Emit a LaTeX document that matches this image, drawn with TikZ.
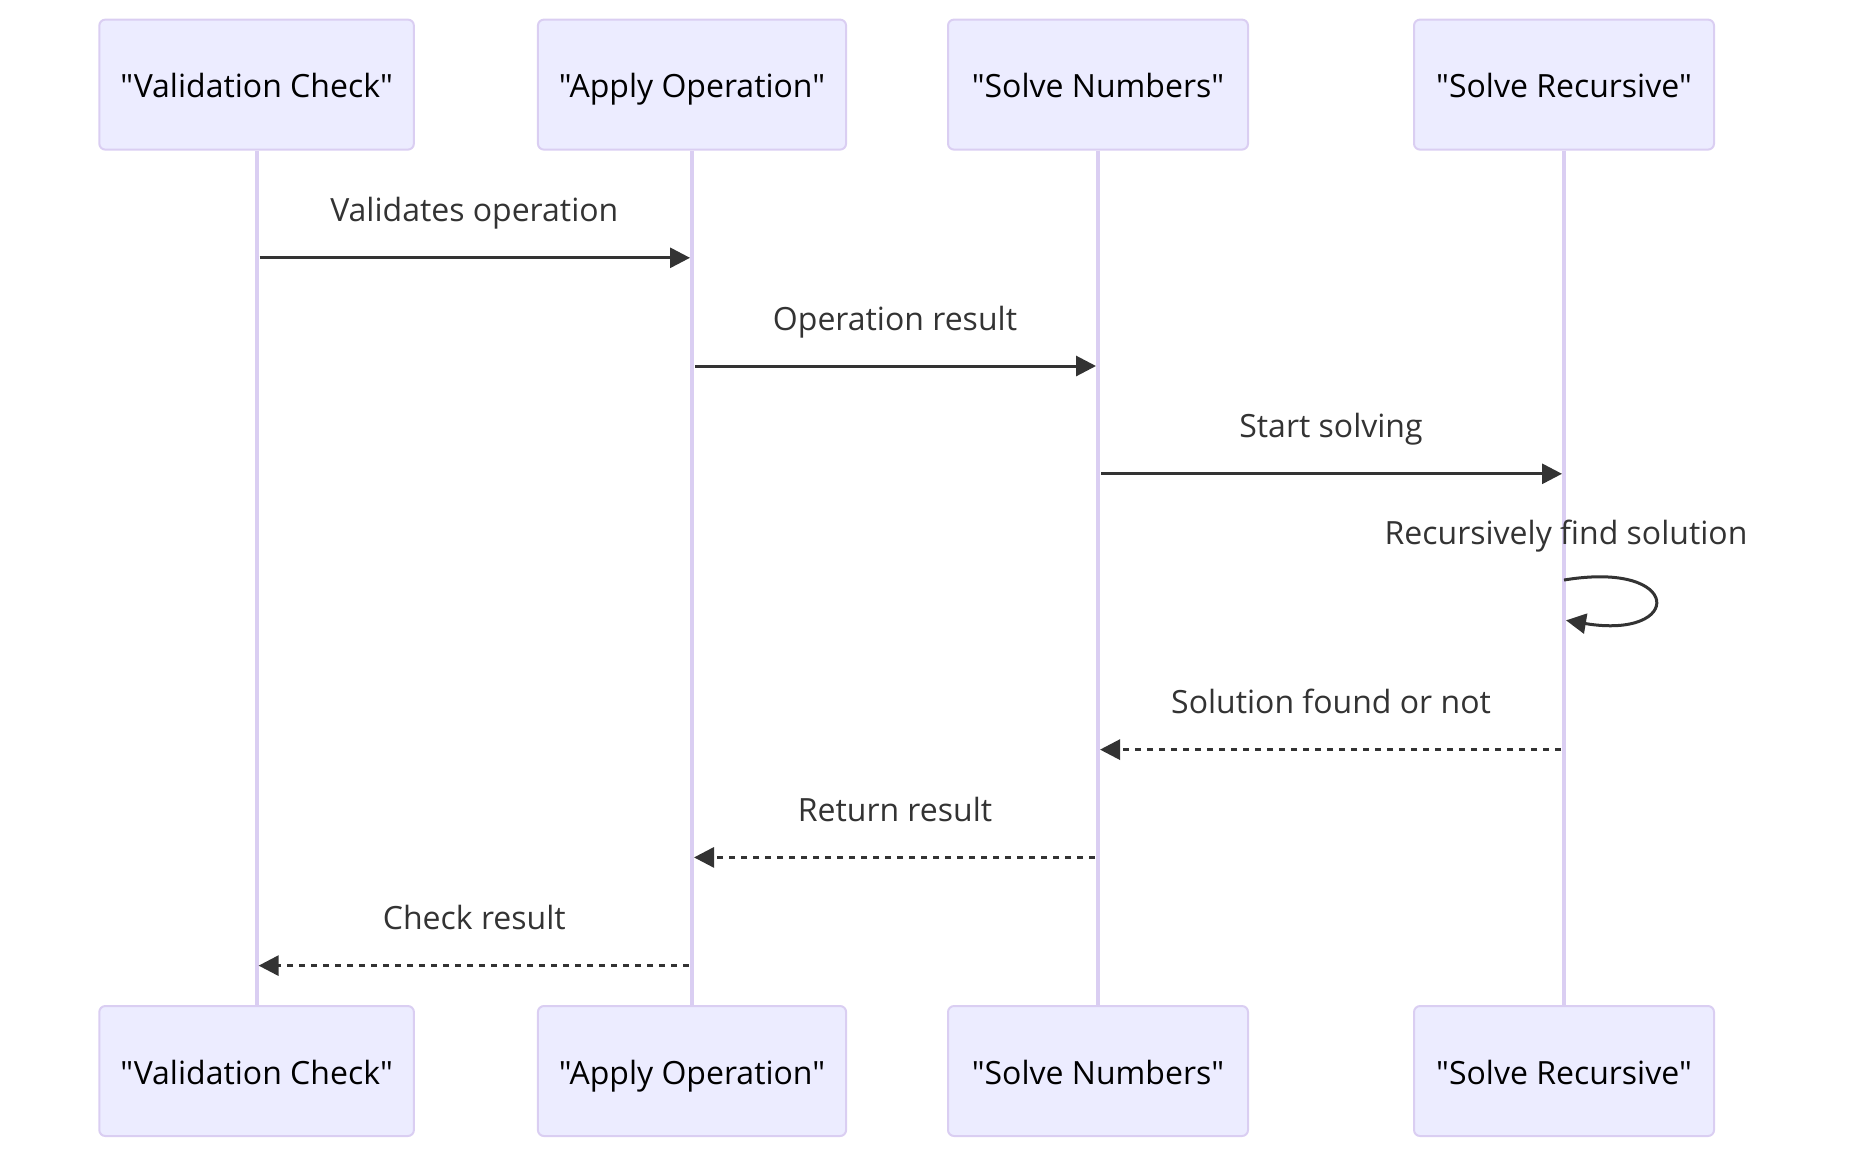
\documentclass[tikz,border=0pt]{standalone}
\usepackage{fontspec}
\setmainfont{Open Sans}[Ligatures=TeXOff]
\usepackage{xcolor}
\usepackage{tikz}
\usetikzlibrary{calc,arrows.meta}
\definecolor{actfill}{HTML}{ECECFF}
\definecolor{actline}{HTML}{DACEF2}
\definecolor{msg}{HTML}{333333}
\tikzset{
  actor/.style={draw=actline, fill=actfill, line width=1pt, rounded corners=3pt,
    minimum width=150pt, minimum height=65pt, inner xsep=10.5pt,
    text height=13.2pt, text depth=0pt,
    text=black, font=\fontsize{16}{19}\selectfont},
  life/.style={draw=actline, line width=2pt},
  call/.style={draw=msg, line width=1.5pt, shorten <=1.5pt, shorten >=1pt,
    -{Triangle[length=10pt,width=10pt]}},
  reply/.style={call, dash pattern=on 3pt off 3pt},
  lbl/.style={text=msg, anchor=base, inner sep=0pt, font=\fontsize{16}{19}\selectfont}
}

\begin{document}
\begin{tikzpicture}[x=1pt,y=-1pt]
\useasboundingbox (0,0) rectangle (925,579);

% actors, top and bottom
\node[actor] (vcT) at (128.3,42.3) {"Validation Check"};
\node[actor] (aoT) at (346,42.3) {"Apply Operation"};
\node[actor] (snT) at (549,42.3) {"Solve Numbers"};
\node[actor] (srT) at (782,42.3) {"Solve Recursive"};
\node[actor] (vcB) at (128.3,535.5) {"Validation Check"};
\node[actor] (aoB) at (346,535.5) {"Apply Operation"};
\node[actor] (snB) at (549,535.5) {"Solve Numbers"};
\node[actor] (srB) at (782,535.5) {"Solve Recursive"};

% lifelines
\draw[life] (vcT.south) -- (vcB.north);
\draw[life] (aoT.south) -- (aoB.north);
\draw[life] (snT.south) -- (snB.north);
\draw[life] (srT.south) -- (srB.north);

% message rows
\coordinate (r1) at (0,128.9);
\coordinate (r2) at (0,183);
\coordinate (r3) at (0,236.9);
\coordinate (r4) at (0,290);
\coordinate (r5) at (0,310);
\coordinate (r6) at (0,374.8);
\coordinate (r7) at (0,428.7);
\coordinate (r8) at (0,482.8);

\draw[call] (vcT.south |- r1) -- (aoT.south |- r1);
\draw[call] (aoT.south |- r2) -- (snT.south |- r2);
\draw[call] (snT.south |- r3) -- (srT.south |- r3);
\draw[call, shorten <=0pt] (srT.south |- r4) .. controls +(60,-10) and +(60,10) .. (srT.south |- r5);
\draw[reply] (srT.south |- r6) -- (snT.south |- r6);
\draw[reply] (snT.south |- r7) -- (aoT.south |- r7);
\draw[reply] (aoT.south |- r8) -- (vcT.south |- r8);

% message texts
\node[lbl] (t1) at ($(vcT.south |- r1)!0.5!(aoT.south |- r1)$) [yshift=18pt] {Validates operation};
\node[lbl] (t2) at ($(aoT.south |- r2)!0.5!(snT.south |- r2)$) [yshift=18pt] {Operation result};
\node[lbl] (t3) at ($(snT.south |- r3)!0.5!(srT.south |- r3)$) [yshift=18pt] {Start solving};
\node[lbl] (t4) at ($(srT.south |- r4)+(1,0)$) [yshift=18pt] {Recursively find solution};
\node[lbl] (t5) at ($(srT.south |- r6)!0.5!(snT.south |- r6)$) [yshift=18pt] {Solution found or not};
\node[lbl] (t6) at ($(snT.south |- r7)!0.5!(aoT.south |- r7)$) [yshift=18pt] {Return result};
\node[lbl] (t7) at ($(aoT.south |- r8)!0.5!(vcT.south |- r8)$) [yshift=18pt] {Check result};
\end{tikzpicture}
\end{document}
